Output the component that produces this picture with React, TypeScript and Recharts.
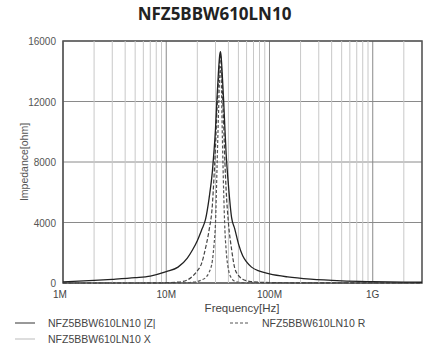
import { LineChart, Line, XAxis, YAxis, CartesianGrid, ReferenceLine, ReferenceArea } from 'recharts';

const freqMHz = [1, 2, 3, 5, 7, 10, 13, 16, 18, 20, 22, 24, 26, 28, 29, 30, 31, 32, 33, 33.5, 34, 35, 36, 37, 38, 40, 43, 46, 50, 55, 60, 67, 80, 100, 150, 250, 500, 1000, 2000, 3000];
const zValues = [80, 170, 240, 350, 460, 750, 1050, 1650, 2200, 2800, 3500, 4200, 5600, 7400, 8700, 10200, 12200, 13900, 15100, 15300, 15000, 13600, 12000, 10200, 8600, 6500, 4300, 3600, 2600, 1800, 1400, 1050, 780, 600, 400, 250, 140, 90, 60, 50];
const rValues = [0, 0, 0, 0, 5, 20, 60, 200, 450, 800, 1300, 2300, 3500, 5200, 7000, 9000, 11500, 13300, 14700, 15000, 14600, 12600, 10500, 8000, 6200, 4000, 2200, 1000, 500, 250, 150, 90, 50, 30, 15, 10, 5, 3, 2, 2];
const xValues = [0, 0, 0, 0, 0, 0, 5, 20, 50, 100, 200, 350, 700, 1500, 2500, 4000, 7500, 11000, 13800, 14300, 13700, 9500, 6000, 3500, 2200, 900, 300, 120, 50, 20, 10, 5, 0, 0, 0, 0, 0, 0, 0, 0];

const xTicks = [1e6, 1e7, 1e8, 1e9];
const xTickLabels = ['1M', '10M', '100M', '1G'];
const minorFreqs = [2e6, 3e6, 4e6, 5e6, 6e6, 7e6, 8e6, 9e6, 2e7, 3e7, 4e7, 5e7, 6e7, 7e7, 8e7, 9e7, 2e8, 3e8, 4e8, 5e8, 6e8, 7e8, 8e8, 9e8, 2e9];
const yTicks = [0, 4000, 8000, 12000, 16000];

const seriesNames = ['NFZ5BBW610LN10 |Z|', 'NFZ5BBW610LN10 R', 'NFZ5BBW610LN10 X'];

const data = freqMHz.map((f, i) => ({ f: f * 1e6, z: zValues[i], r: rValues[i], x: xValues[i] }));

const FONT = "'Liberation Sans', 'DejaVu Sans', sans-serif";
const narrow = { fontStretch: 'condensed' as const };

const XTick = (props: any) => {
  const { x, y, payload } = props;
  const idx = xTicks.indexOf(payload.value);
  const dx = idx === 0 ? -3 : 0;
  return (
    <text x={x + dx} y={y + 7} textAnchor="middle" fontSize={10} fill="#444" fontFamily={FONT} style={narrow}>
      {xTickLabels[idx]}
    </text>
  );
};

const YTick = (props: any) => {
  const { x, y, payload } = props;
  return (
    <text x={x} y={y + 4} textAnchor="end" fontSize={10} fill="#555" fontFamily={FONT} style={narrow}>
      {payload.value}
    </text>
  );
};

const LegendBox = () => (
  <svg width={429} height={36} style={{ position: 'absolute', left: 0, top: 313 }}>
    <line x1={15} x2={35} y1={10} y2={10} stroke="#333" strokeWidth={1} />
    <text x={48} y={14} fontSize={10.5} fill="#444" fontFamily={FONT} style={narrow}>{seriesNames[0]}</text>
    <line x1={230} x2={250} y1={10} y2={10} stroke="#555" strokeWidth={1} strokeDasharray="3 2" />
    <text x={262} y={14} fontSize={10.5} fill="#444" fontFamily={FONT} style={narrow}>{seriesNames[1]}</text>
    <line x1={15} x2={35} y1={26} y2={26} stroke="#bbb" strokeWidth={1} />
    <text x={48} y={30} fontSize={10.5} fill="#444" fontFamily={FONT} style={narrow}>{seriesNames[2]}</text>
  </svg>
);

export default function App() {
  return (
    <div style={{ position: 'absolute', left: 0, top: 0, width: 429, height: 349, background: '#fff' }}>
      <div
        style={{
          position: 'absolute',
          top: 2,
          width: 429,
          textAlign: 'center',
          fontFamily: "'Noto Sans', sans-serif",
          fontWeight: 700,
          fontSize: 17,
          color: '#222',
        }}
      >
        NFZ5BBW610LN10
      </div>
      <LineChart width={429} height={349} data={data} margin={{ top: 41, right: 7, left: 0, bottom: 36 }}>
        <CartesianGrid stroke="#8a8a8a" strokeWidth={1} horizontalValues={yTicks} verticalValues={xTicks} />
        {minorFreqs.map((v) => (
          <ReferenceLine key={v} x={v} stroke="#c8c8c8" strokeWidth={1} />
        ))}
        <XAxis
          dataKey="f"
          type="number"
          scale="log"
          domain={[1e6, 3e9]}
          ticks={xTicks}
          tick={<XTick />}
          tickLine={false}
          axisLine={false}
          height={30}
          allowDataOverflow
          label={{
            content: (p: any) => (
              <text x={242} y={p.viewBox.y + 29} textAnchor="middle" fontSize={11.5} fill="#444" fontFamily={FONT} style={narrow}>
                Frequency[Hz]
              </text>
            ),
          }}
        />
        <YAxis
          type="number"
          domain={[0, 16000]}
          ticks={yTicks}
          tick={<YTick />}
          tickLine={false}
          axisLine={false}
          tickMargin={1}
          width={63}
          label={{
            content: (p: any) => {
              const cx = 28;
              const cy = p.viewBox.y + p.viewBox.height / 2;
              return (
                <text x={cx} y={cy} textAnchor="middle" fontSize={10.5} fill="#555" fontFamily={FONT} style={narrow} transform={`rotate(-90 ${cx} ${cy})`}>
                  Impedance[ohm]
                </text>
              );
            },
          }}
        />
        <ReferenceArea x1={1e6} x2={3e9} y1={0} y2={16000} fill="none" stroke="#555" strokeWidth={1.6} ifOverflow="visible" />
        <Line type="monotone" dataKey="x" stroke="#555" strokeWidth={1.2} strokeDasharray="3 2" dot={false} isAnimationActive={false} />
        <Line type="monotone" dataKey="r" stroke="#444" strokeWidth={1.2} strokeDasharray="4 2" dot={false} isAnimationActive={false} />
        <Line type="monotone" dataKey="z" stroke="#222" strokeWidth={1.3} dot={false} isAnimationActive={false} />
      </LineChart>
      <LegendBox />
    </div>
  );
}
